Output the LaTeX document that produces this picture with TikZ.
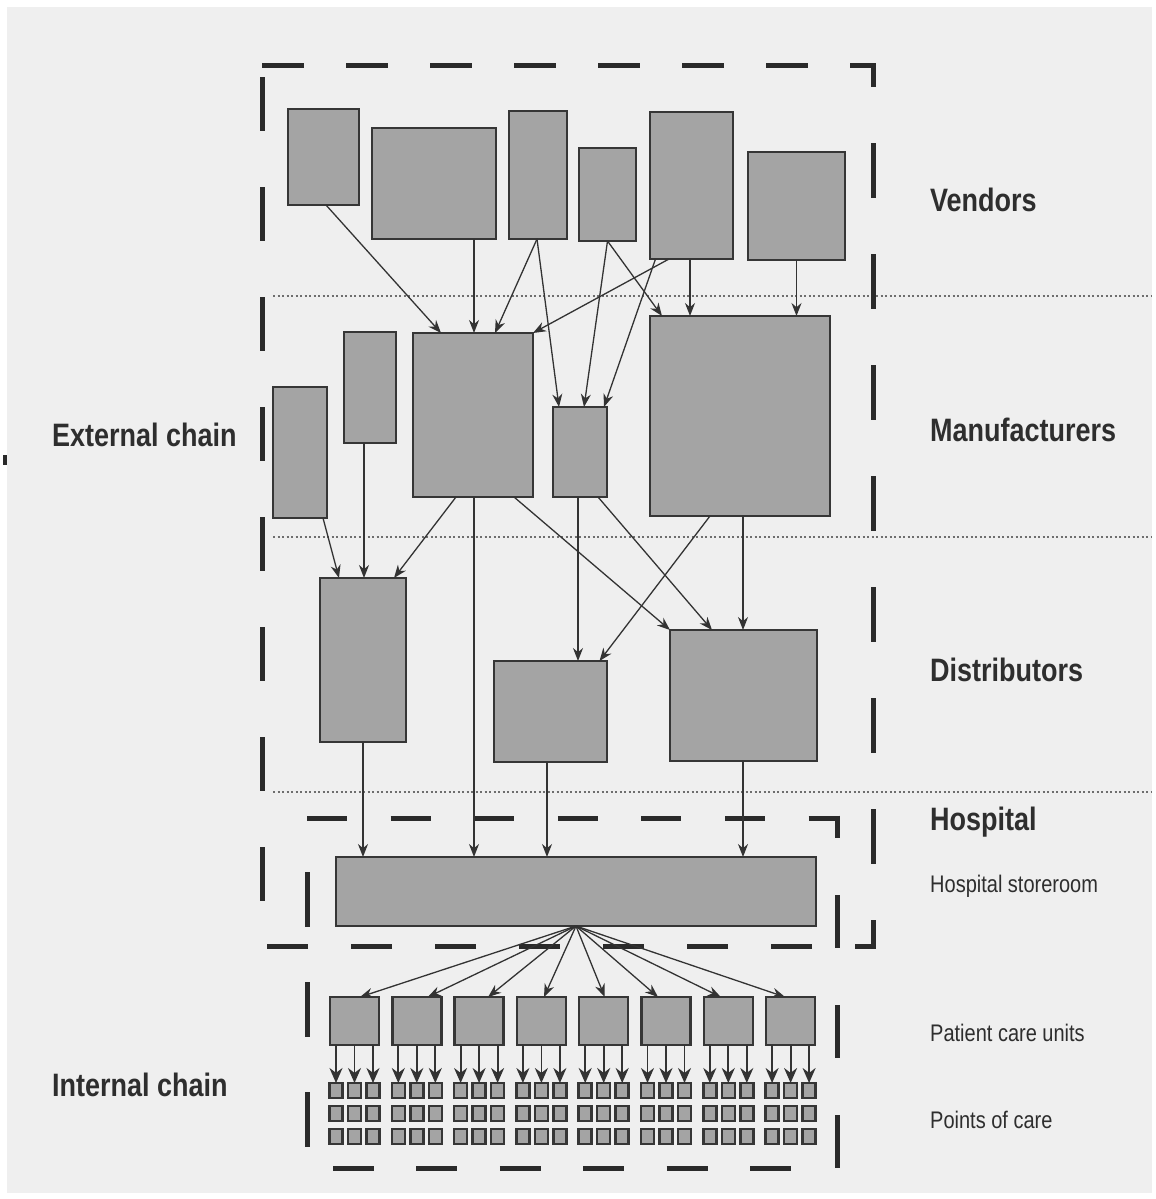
\documentclass[tikz,border=0pt]{standalone}
\usepackage{fontspec}
\setmainfont{Liberation Sans}
\usetikzlibrary{arrows.meta}
\definecolor{bgc}{HTML}{EFEFEF}
\definecolor{boxfill}{HTML}{A4A4A4}
\definecolor{boxline}{HTML}{363636}
\definecolor{arrc}{HTML}{333333}
\definecolor{dashc}{HTML}{2A2A2A}
\definecolor{dotc}{HTML}{6E6E6E}
\definecolor{txtc}{HTML}{2E2E2E}
\newcommand\lblfont{\fontsize{27}{30}\selectfont\bfseries}
\newcommand\smlfont{\fontsize{20}{24}\selectfont}
\newcommand\bx[5]{%
  \pgfmathsetmacro\bw{#4-#2}\pgfmathsetmacro\bh{#5-#3}%
  \pgfmathsetmacro\bcx{(#2+#4)/2}\pgfmathsetmacro\bcy{(#3+#5)/2}%
  \node[box, minimum width=\bw pt, minimum height=\bh pt] (#1) at (\bcx,\bcy) {};}
\tikzset{
  box/.style={draw=boxline, fill=boxfill, line width=2.5pt, inner sep=0pt, outer sep=0pt},
  arr/.style={draw=arrc, line width=1.3pt, -{Stealth[length=13pt,width=10pt]}},
  arrb/.style={draw=arrc, line width=1.8pt, -{Stealth[length=15pt,width=13pt]}},
  dsh/.style={draw=dashc, line width=5pt},
  dotl/.style={draw=dotc, line width=1.2pt, dash pattern=on 2pt off 2.5pt},
  poc/.style={box, line width=2.5pt, minimum width=13pt, minimum height=15pt},
  pcu/.style={box, minimum width=49pt, minimum height=48pt},
  lab/.style={anchor=west, inner sep=0pt, text=txtc},
}
\begin{document}
\begin{tikzpicture}[x=1pt, y=-1pt]
\useasboundingbox (0,0) rectangle (1156,1199);
\fill[white] (0,0) rectangle (1156,1199);
\fill[bgc] (7,7) rectangle (1152,1193);
\fill[dashc] (3,455) rectangle (7,465);

% dotted tier separators
\draw[dotl] (273,296) -- (1152,296);
\draw[dotl] (273,537) -- (1152,537);
\draw[dotl] (273,792) -- (1152,792);

% outer (external chain) dashed frame
\draw[dsh, dash pattern=on 42pt off 42pt] (262,66) -- (875.5,66);
\draw[dsh, dash pattern=on 55pt off 56pt, dash phase=31.5pt] (873,63.5) -- (873,948.5);
\draw[dsh, dash pattern=on 41pt off 43pt, dash phase=23pt] (873,946) -- (267,946);
\draw[dsh, dash pattern=on 54pt off 56pt, dash phase=99pt] (262,66) -- (262,903);

% inner (hospital) dashed frame
\draw[dsh, dash pattern=on 40pt off 43.6pt] (307,818) -- (839.5,818);
\draw[dsh, dash pattern=on 53pt off 57pt, dash phase=30.5pt] (837,815.5) -- (837,1170);
\draw[dsh, dash pattern=on 41pt off 42.4pt] (333,1168) -- (791,1168);
\draw[dsh, dash pattern=on 55pt off 55pt] (307,872) -- (307,1147);

% vendors
\bx{V1}{288}{109}{359}{205}
\bx{V2}{372}{128}{496}{239}
\bx{V3}{509}{111}{567}{239}
\bx{V4}{579}{148}{636}{241}
\bx{V5}{650}{112}{733}{259}
\bx{V6}{748}{152}{845}{260}
% manufacturers
\bx{M1}{273}{387}{327}{518}
\bx{M2}{344}{332}{396}{443}
\bx{M3}{413}{333}{533}{497}
\bx{M4}{553}{407}{607}{497}
\bx{M5}{650}{316}{830}{516}
% distributors
\bx{D1}{320}{578}{406}{742}
\bx{D2}{494}{661}{607}{762}
\bx{D3}{670}{630}{817}{761}
% hospital storeroom
\bx{S}{336}{857}{816}{926}

% vendors -> manufacturers
\draw[arr] ([xshift=2.5pt]V1.south) -- ([xshift=-32pt]M3.north);
\draw[arr] ([xshift=40pt]V2.south) -- ([xshift=1pt]M3.north);
\draw[arr] ([xshift=-1pt]V3.south) -- ([xshift=22pt]M3.north);
\draw[arr] ([xshift=-22.5pt]V5.south) -- (M3.north east);
\draw[arr] ([xshift=-1pt]V3.south) -- ([xshift=-21pt]M4.north);
\draw[arr] (V4.south) -- ([xshift=4pt]M4.north);
\draw[arr] ([xshift=-36pt]V5.south) -- ([xshift=24pt]M4.north);
\draw[arr] (V4.south) -- ([xshift=-78pt]M5.north);
\draw[arr] ([xshift=-1.5pt]V5.south) -- ([xshift=-50pt]M5.north);
\draw[arr] (V6.south) -- ([xshift=56.5pt]M5.north);

% manufacturers -> distributors / storeroom
\draw[arr] ([xshift=23pt]M1.south) -- ([xshift=-24pt]D1.north);
\draw[arr] ([xshift=-6pt]M2.south) -- ([xshift=1pt]D1.north);
\draw[arr] ([xshift=-17pt]M3.south) -- ([xshift=31pt]D1.north);
\draw[arr] ([xshift=1pt]M3.south) -- ([xshift=-102pt]S.north);
\draw[arr] ([xshift=41pt]M3.south) -- (D3.north west);
\draw[arr] ([xshift=-2pt]M4.south) -- ([xshift=27.5pt]D2.north);
\draw[arr] ([xshift=18pt]M4.south) -- ([xshift=-31.5pt]D3.north);
\draw[arr] ([xshift=-30pt]M5.south) -- ([xshift=49pt]D2.north);
\draw[arr] ([xshift=3pt]M5.south) -- ([xshift=-0.5pt]D3.north);

% distributors -> storeroom
\draw[arr] (D1.south) -- ([xshift=-213pt]S.north);
\draw[arr] ([xshift=-3.5pt]D2.south) -- ([xshift=-29pt]S.north);
\draw[arr] ([xshift=-0.5pt]D3.south) -- ([xshift=167pt]S.north);

% patient care units and points of care
\coordinate (fan) at (S.south);
\foreach \i in {0,...,7} {
  \pgfmathsetmacro\cx{354.5+62.3*\i}
  \node[pcu] (p\i) at (\cx,1021) {};
  \foreach \c/\dx in {0/-18.5,1/0,2/18.5} {
    \pgfmathsetmacro\qx{\cx+(\dx)}
    \foreach \r/\yy in {0/1090.5,1/1113.5,2/1136.5} {
      \node[poc] (q\i-\r-\c) at (\qx,\yy) {};
    }
    \draw[arrb] ([xshift=\dx pt]p\i.south) -- (q\i-0-\c.north);
  }
}
\foreach \i/\s in {0/5.5,1/11,2/9,3/2.6,4/1,5/-8,6/-7.5,7/-5.6} {
  \draw[arr] (fan) -- ([xshift=\s pt]p\i.north);
}

% labels
\node[lab] (lv) at (930,200) {\scalebox{1}[1.2]{\lblfont Vendors}};
\node[lab] (lm) at (930,430) {\scalebox{1}[1.2]{\lblfont Manufacturers}};
\node[lab] (ld) at (930,670) {\scalebox{1}[1.2]{\lblfont Distributors}};
\node[lab] (lh) at (930,822) {\scalebox{1}[1.2]{\lblfont Hospital}};
\node[lab] (lhs) at (930,886) {\scalebox{1}[1.2]{\smlfont Hospital storeroom}};
\node[lab] (lpcu) at (930,1033) {\scalebox{1}[1.2]{\smlfont Patient care units}};
\node[lab] (lpoc) at (930,1120) {\scalebox{1}[1.2]{\smlfont Points of care}};
\node[lab] (lext) at (52,435) {\scalebox{1}[1.2]{\lblfont External chain}};
\node[lab] (lint) at (52,1085) {\scalebox{1}[1.2]{\lblfont Internal chain}};
\end{tikzpicture}
\end{document}
